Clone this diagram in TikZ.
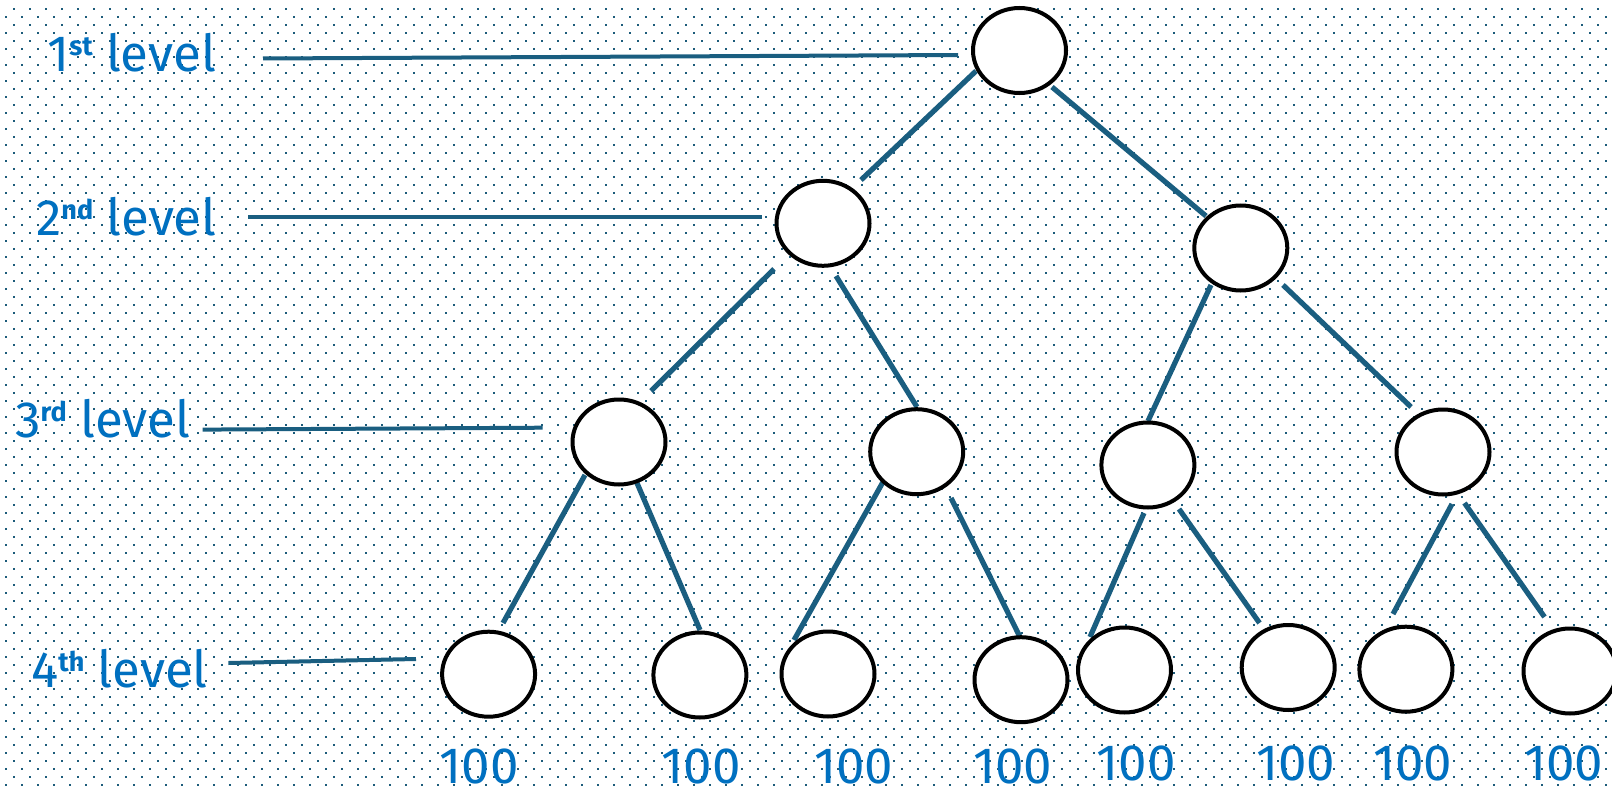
\documentclass[tikz,border=0pt]{standalone}
\usepackage{fontspec}
\setmainfont{Fira Sans}
\usetikzlibrary{shapes.geometric}
\pgfdeclarelayer{back}
\pgfdeclarelayer{mid}
\pgfsetlayers{back,mid,main}
\definecolor{lineteal}{HTML}{1A5E80}
\definecolor{dotteal}{HTML}{1C5B7A}
\definecolor{txtblue}{HTML}{0070C0}
\newcommand{\supr}[1]{\raisebox{16pt}{\fontsize{27}{27}\selectfont\bfseries #1}}
\begin{document}
\begin{tikzpicture}[x=1pt,y=-1pt,
  treenode/.style={ellipse, draw=black, line width=4pt, fill=white, minimum width=93pt, minimum height=85pt, inner sep=0pt},
  edge/.style={draw=lineteal, line width=5.2pt},
  levelline/.style={draw=lineteal, line width=4pt},
  levellabel/.style={anchor=base west, inner sep=0pt, text=txtblue, font=\fontsize{51}{60}\selectfont},
  numlabel/.style={anchor=base, inner sep=0pt, text=txtblue, font=\fontsize{51}{60}\selectfont},
  dotrow/.style={draw=dotteal, line width=2pt, dash pattern=on 2pt off 14pt}
]
\useasboundingbox (0,0) rectangle (1612,792);
\begin{pgfonlayer}{back}
\fill[white] (0,0) rectangle (1612,792);
\foreach \k in {0,...,98} {
  \pgfmathsetmacro{\xs}{isodd(\k) ? 5 : 13}
  \draw[dotrow] (\xs,{8.7+8*\k}) -- (1612,{8.7+8*\k});
}
\end{pgfonlayer}

% tree nodes
\node[treenode] (root) at (1019.5,50.5) {};
\node[treenode] (L2a) at (823,223.3) {};
\node[treenode] (L2b) at (1240.8,248) {};
\node[treenode] (L3a) at (619,442) {};
\node[treenode] (L3b) at (916.7,451.7) {};
\node[treenode] (L3c) at (1147.9,465) {};
\node[treenode] (L3d) at (1443,452) {};
\node[treenode] (L4a) at (488.6,674.2) {};
\node[treenode] (L4b) at (699.9,675) {};
\node[treenode] (L4c) at (828,674) {};
\node[treenode] (L4d) at (1021,679.7) {};
\node[treenode] (L4e) at (1124.5,670) {};
\node[treenode] (L4f) at (1288.2,667.5) {};
\node[treenode] (L4g) at (1405.9,669.2) {};
\node[treenode] (L4h) at (1570,671) {};

% connectors
\begin{pgfonlayer}{mid}
\draw[edge] ([shift={(-43.5,20.5)}]root.center) -- ([shift={(38,-43.3)}]L2a.center);
\draw[edge] ([shift={(32.5,36.5)}]root.center) -- ([shift={(-34.8,-32)}]L2b.center);
\draw[edge] ([shift={(-49,45.7)}]L2a.center) -- ([shift={(32,-51)}]L3a.center);
\draw[edge] ([shift={(13,52.7)}]L2a.center) -- ([shift={(0.3,-44.7)}]L3b.center);
\draw[edge] ([shift={(-29.8,37)}]L2b.center) -- ([shift={(0.1,-44)}]L3c.center);
\draw[edge] ([shift={(42.2,37)}]L2b.center) -- ([shift={(-32,-45)}]L3d.center);
\draw[edge] ([shift={(-34,33)}]L3a.center) -- ([shift={(14.4,-51.2)}]L4a.center);
\draw[edge] ([shift={(18,41)}]L3a.center) -- ([shift={(0.1,-45)}]L4b.center);
\draw[edge] ([shift={(-33.7,30.3)}]L3b.center) -- ([shift={(-34,-34)}]L4c.center);
\draw[edge] ([shift={(34.3,46.3)}]L3b.center) -- ([shift={(-1.5,-43.7)}]L4d.center);
\draw[edge] ([shift={(-3.9,48)}]L3c.center) -- ([shift={(-34.5,-33)}]L4e.center);
\draw[edge] ([shift={(31.1,44)}]L3c.center) -- ([shift={(-28.7,-44.5)}]L4f.center);
\draw[edge] ([shift={(9,52)}]L3d.center) -- ([shift={(-12.9,-55.2)}]L4g.center);
\draw[edge] ([shift={(21.5,51)}]L3d.center) -- ([shift={(-25.5,-54)}]L4h.center);

% level lines
\coordinate (s1) at (263,58.5);
\coordinate (s2) at (248,216.7);
\coordinate (s3) at (202.7,429.6);
\coordinate (s4) at (228.3,663);
\draw[levelline] (s1) -- ([shift={(-61.5,4.5)}]root.center);
\draw[levelline] (s2) -- ([shift={(-61.4,-6.6)}]L2a.center);
\draw[levelline] (s3) -- ([shift={(-76.3,-14.3)}]L3a.center);
\draw[levelline] (s4) -- ([shift={(-72.6,-15.2)}]L4a.center);
\end{pgfonlayer}

% level labels
\node[levellabel] (lab1) at (47,71) {1\supr{st} level};
\node[levellabel] (lab2) at (36,235) {2\supr{nd} level};
\node[levellabel] (lab3) at (15,437.7) {3\supr{rd} level};
\node[levellabel] (lab4) at (31,687.4) {4\supr{th} level};

% leaf values
\node[numlabel] (t1) at (479,783) {100};
\node[numlabel] (t2) at (701,783) {100};
\node[numlabel] (t3) at (853.5,783) {100};
\node[numlabel] (t4) at (1012.6,783) {100};
\node[numlabel] (t5) at (1136,780) {100};
\node[numlabel] (t6) at (1295.6,780) {100};
\node[numlabel] (t7) at (1412.7,780) {100};
\node[numlabel] (t8) at (1563.5,780) {100};
\end{tikzpicture}
\end{document}
